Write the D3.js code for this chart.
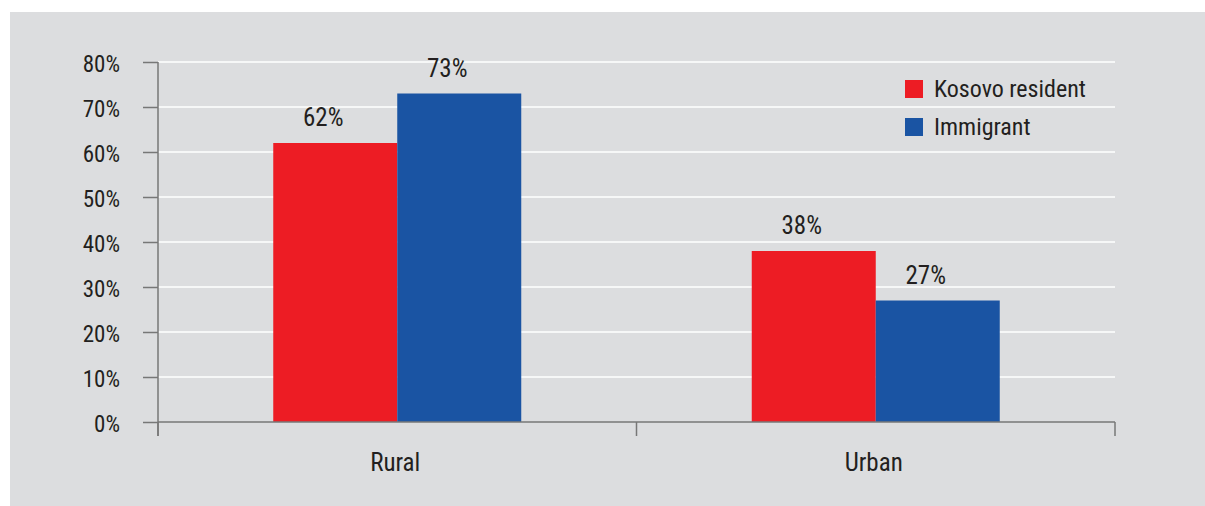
<!DOCTYPE html>
<meta charset="utf-8">
<style>
body { margin: 0; background: #fff; }
svg text { font-family: "Liberation Sans Narrow", "Roboto Condensed", "DejaVu Sans Condensed", sans-serif; fill: #231f20; }
</style>
<body>
<script src="https://d3js.org/d3.v7.min.js"></script>
<script>

// data
var categories = ["Rural", "Urban"];
var series = ["Kosovo resident", "Immigrant"];
var residentValues = [62, 38];
var immigrantValues = [73, 27];
var yTicks = [0, 10, 20, 30, 40, 50, 60, 70, 80];
var colors = ["#ed1c24", "#1a54a3"];

var W = 1205, H = 506;
var plotLeft = 158, plotRight = 1115, plotTop = 62, base = 422;

var svg = d3.select("body").append("svg")
    .attr("width", W)
    .attr("height", H);

// gray panel
svg.append("rect")
    .attr("x", 10).attr("y", 12)
    .attr("width", W - 10).attr("height", H - 12)
    .attr("fill", "#dcdddf");

var x0 = d3.scaleBand().domain(categories).range([plotLeft, plotRight]);
var barW = 124;
var x1 = d3.scaleBand().domain(series)
    .range([x0.bandwidth() / 2 - barW, x0.bandwidth() / 2 + barW]);
var y = d3.scaleLinear().domain([0, 80]).range([base, plotTop]);

// gridlines
svg.append("g").selectAll("line")
    .data(yTicks.filter(function(d) { return d > 0; }))
  .enter().append("line")
    .attr("x1", plotLeft).attr("x2", plotRight)
    .attr("y1", function(d) { return y(d); })
    .attr("y2", function(d) { return y(d); })
    .attr("stroke", "#fff")
    .attr("stroke-width", 1.5);

// y axis
var yAxis = svg.append("g")
    .attr("transform", "translate(" + plotLeft + ",0)")
    .call(d3.axisLeft(y).tickValues(yTicks).tickSize(15).tickPadding(23)
        .tickFormat(function(d) { return d + "%"; }));
yAxis.attr("font-family", null).attr("font-size", null);
yAxis.select(".domain").remove();
yAxis.selectAll(".tick line").attr("stroke", "#777").attr("stroke-width", 1.5);
yAxis.selectAll(".tick text")
    .attr("font-size", 23).attr("dy", "0.42em").attr("fill", "#231f20");
svg.append("line")
    .attr("x1", plotLeft).attr("x2", plotLeft)
    .attr("y1", y(80)).attr("y2", base + 14)
    .attr("stroke", "#777").attr("stroke-width", 1.5);

// bars
var rows = categories.map(function(c, i) {
  return { cat: c, vals: [residentValues[i], immigrantValues[i]] };
});
var groups = svg.append("g").selectAll("g")
    .data(rows)
  .enter().append("g")
    .attr("transform", function(d) { return "translate(" + x0(d.cat) + ",0)"; });

groups.selectAll("rect")
    .data(function(d) { return d.vals.map(function(v, j) { return { s: series[j], v: v, j: j }; }); })
  .enter().append("rect")
    .attr("x", function(d) { return x1(d.s); })
    .attr("y", function(d) { return y(d.v); })
    .attr("width", x1.bandwidth())
    .attr("height", function(d) { return base - y(d.v); })
    .attr("fill", function(d) { return colors[d.j]; });

groups.selectAll("text")
    .data(function(d) { return d.vals.map(function(v, j) { return { s: series[j], v: v }; }); })
  .enter().append("text")
    .attr("x", function(d) { return x1(d.s) + x1.bandwidth() / 2 - 12; })
    .attr("y", function(d) { return y(d.v) - 17; })
    .attr("text-anchor", "middle")
    .attr("font-size", 25)
    .text(function(d) { return d.v + "%"; });

// x axis
svg.append("line")
    .attr("x1", plotLeft).attr("x2", plotRight)
    .attr("y1", base).attr("y2", base)
    .attr("stroke", "#777").attr("stroke-width", 1.5);
var xTicks = [plotLeft, plotLeft + x0.bandwidth(), plotRight];
svg.append("g").selectAll("line")
    .data(xTicks)
  .enter().append("line")
    .attr("x1", function(d) { return d; }).attr("x2", function(d) { return d; })
    .attr("y1", base).attr("y2", base + 14)
    .attr("stroke", "#777").attr("stroke-width", 1.5);

svg.append("g").selectAll("text")
    .data(categories)
  .enter().append("text")
    .attr("x", function(d) { return x0(d) + x0.bandwidth() / 2 - 2; })
    .attr("y", 471)
    .attr("text-anchor", "middle")
    .attr("font-size", 25)
    .text(function(d) { return d; });

// legend
var legend = svg.append("g").selectAll("g")
    .data(series)
  .enter().append("g")
    .attr("transform", function(d, i) { return "translate(905," + (80 + i * 38) + ")"; });
legend.append("rect")
    .attr("width", 18).attr("height", 18)
    .attr("fill", function(d, i) { return colors[i]; });
legend.append("text")
    .attr("x", 29).attr("y", 17)
    .attr("font-size", 24)
    .text(function(d) { return d; });

</script>
</body>
